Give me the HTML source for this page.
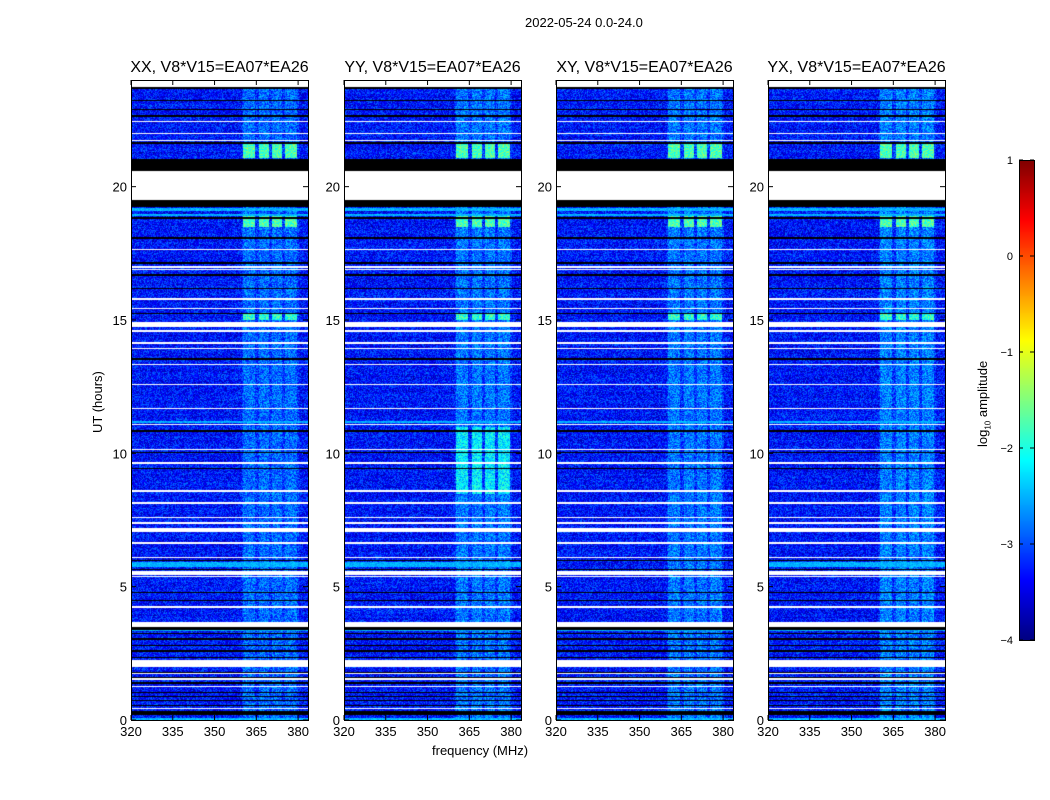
<!DOCTYPE html>
<html><head><meta charset="utf-8"><style>
body{margin:0;background:#fff;font-family:"Liberation Sans","DejaVu Sans",sans-serif;}
#root{position:relative;width:1050px;height:800px;overflow:hidden;background:#fff}
.t{position:absolute;font-size:13px;color:#000;white-space:nowrap}
.pt{position:absolute;font-size:16px;white-space:nowrap;transform:translateX(-50%)}
canvas{position:absolute;z-index:1}
#ov{z-index:2}
</style></head><body>
<div id="root">
<div class="t" style="left:525px;top:15px">2022-05-24 0.0-24.0</div>
<div class="t" style="left:432px;top:743px">frequency (MHz)</div>
<div class="t" style="left:90px;top:433px;transform:rotate(-90deg);transform-origin:0 0">UT (hours)</div>
<div class="t" style="left:975px;top:447px;transform:rotate(-90deg);transform-origin:0 0">log<sub style="font-size:8px">10</sub> amplitude</div>
<svg id="ov" width="1050" height="800" style="position:absolute;left:0;top:0"></svg>
</div>
<script>
// ---- data ----
const panelNames = ["XX","YY","XY","YX"];
const panelLeft = [131,344,556,768];
const freqTicks = [320,335,350,365,380];
const timeTicks = [0,5,10,15,20];
const cbTicks = [1,0,-1,-2,-3,-4];
const whiteThin = [22.46,22.01,21.75,17.66,17.02,16.91,15.79,15.45,14.62,14.17,13.95,13.35,12.60,11.70,11.10,10.16,9.67,8.62,8.14,7.61,7.39,6.67,6.11,5.40,4.27,1.76,1.54,0.45];
const whiteThick = [[19.50,20.62],[14.77,14.96],[7.05,7.20],[5.47,5.59],[3.49,3.71],[1.99,2.25],[1.24,1.31],[23.75,24.0]];
const blackThin = [23.73,23.25,22.91,22.68,21.67,18.85,18.10,17.17,16.69,16.20,15.26,13.57,10.87,10.05,9.45,6.00,5.66,4.80,4.50,3.26,3.04,2.81,2.59,2.36,1.80,1.61,1.39,1.05,0.90,0.75,0.56];
const blackThick = [[20.62,21.07],[19.24,19.50],[0.19,0.37],[3.40,3.49]];
const cyanRows = [[19.12,19.2],[18.92,19.0],[11.16,11.24],[5.74,5.96],[3.36,3.42],[0,0.11]];
const bandChans = [[360.1,364.4],[365.8,369.4],[370.4,374.0],[375.0,379.3]];
const bandBase = [-2.85,-2.8,-2.8,-2.75];
const hotSegs = [[21.1,21.67,-1.75],[18.5,19.0,-1.75],[15.0,15.25,-1.9]];
const yyHot = [8.5,11.0,-2.2];
const bgLevel = -3.3;

// ---- axes ----
const Y0=720, HPX=26.667, PW=177, PH=640, TOP=80;
const yOf=h=>Y0-h*HPX;
const xOf=(f,left)=>left+(f-320)*2.785;
function jet(v){let t=(v+4)/5;t=Math.max(0,Math.min(1,t));
 const c=x=>Math.max(0,Math.min(1,x));
 return [c(1.5-Math.abs(4*t-3)),c(1.5-Math.abs(4*t-2)),c(1.5-Math.abs(4*t-1))].map(x=>Math.round(x*255));}
function hash(a,b){let h=a*374761393+b*668265263;h=(h^(h>>>13))*1274126177;h=h^(h>>>16);return ((h>>>0)%10000)/10000;}

const root=document.getElementById('root');
panelNames.forEach((nm,p)=>{
 const L=panelLeft[p];
 const cv=document.createElement('canvas');cv.width=PW;cv.height=PH;
 cv.style.left=L+'px';cv.style.top=TOP+'px';
 
 
 root.appendChild(cv);
 const ctx=cv.getContext('2d');const img=ctx.createImageData(PW,PH);
 for(let py=0;py<PH;py++){
  const h=(Y0-(TOP+py))/HPX;
  const rowN=(hash(py>>1,p*7+3)-0.5)*0.3;
  for(let px=0;px<PW;px++){
   const f=320+px/2.785;
   const n=hash(px,py*3+p*1000)-0.5;
   let v=bgLevel+rowN*0.6+n*0.95;
   let inBand=false;
   bandChans.forEach(b=>{if(f>=b[0]&&f<=b[1])inBand=true;});
   if(f>=359.5&&f<=380){v+=0.2;}
   if(inBand){let lv=bandBase[p];
    hotSegs.forEach(s=>{if(h>=s[0]&&h<=s[1])lv=s[2];});
    if(p==1&&h>=yyHot[0]&&h<=yyHot[1])lv=yyHot[2];
    v=lv+(hash(px*5,py+p)-0.5)*0.9;}
   cyanRows.forEach(s=>{if(h>=s[0]&&h<=s[1]&&!(p==2&&s[0]>5&&s[0]<6))v=-2.5+(hash(px,py)-0.5)*0.4;});
   let col=jet(v);
   blackThin.forEach(b=>{if(Math.abs(h-b)<0.035)col=[0,0,0];});
   blackThick.forEach(b=>{if(h>=b[0]&&h<=b[1])col=[0,0,0];});
   whiteThin.forEach(b=>{if(Math.abs(h-b)<0.035)col=[255,255,255];});
   whiteThick.forEach(b=>{if(h>=b[0]&&h<=b[1])col=[255,255,255];});
   const i=(py*PW+px)*4;img.data[i]=col[0];img.data[i+1]=col[1];img.data[i+2]=col[2];img.data[i+3]=255;
  }}
 ctx.putImageData(img,0,0);
 const t=document.createElement('div');t.className='pt';t.textContent=nm+', V8*V15=EA07*EA26';
 t.style.left=(L+PW/2)+'px';t.style.top='59px';
 
 
 root.appendChild(t);
});
// colorbar
const cb=document.createElement('canvas');cb.width=15;cb.height=480;cb.style.left='1019px';cb.style.top='160px';


root.appendChild(cb);
{const c=cb.getContext('2d');for(let y=0;y<480;y++){const k=jet(1-y/96);c.fillStyle=`rgb(${k})`;c.fillRect(0,y,15,1);}}
const NS='http://www.w3.org/2000/svg',ov=document.getElementById('ov');
function el(tag,at){const e=document.createElementNS(NS,tag);for(const k in at)e.setAttribute(k,at[k]);ov.appendChild(e);return e;}
panelLeft.forEach((L,p)=>{
 const fr=el('rect',{x:L+0.5,y:TOP+0.5,width:PW,height:PH,fill:'none',stroke:'#000'});
 
 
 freqTicks.forEach(f=>{const x=xOf(f,L);
  el('line',{x1:x,x2:x,y1:TOP,y2:TOP+5,stroke:'#000'});el('line',{x1:x,x2:x,y1:TOP+PH,y2:TOP+PH-5,stroke:'#000'});
  const tx=el('text',{x:x,y:736,'font-size':13,'text-anchor':'middle','font-family':'Liberation Sans, sans-serif'});tx.textContent=f;
  
  });
 timeTicks.forEach(h=>{const y=yOf(h);
  el('line',{x1:L,x2:L+5,y1:y,y2:y,stroke:'#000'});el('line',{x1:L+PW,x2:L+PW-5,y1:y,y2:y,stroke:'#000'});
  const tx=el('text',{x:L-4,y:y+5,'font-size':13,'text-anchor':'end','font-family':'Liberation Sans, sans-serif'});tx.textContent=h;
  
  });
});
el('rect',{x:1019.5,y:160.5,width:15,height:480,fill:'none',stroke:'#000'});
cbTicks.forEach(v=>{const y=160+(1-v)*96;
 el('line',{x1:1019,x2:1023,y1:y,y2:y,stroke:'#000'});el('line',{x1:1030,x2:1034,y1:y,y2:y,stroke:'#000'});
 const tx=el('text',{x:1013,y:y+4,'font-size':11,'text-anchor':'end','font-family':'Liberation Sans, sans-serif'});tx.textContent=v<0?'\u2212'+(-v):v;
 
 });
</script>
</body></html>
